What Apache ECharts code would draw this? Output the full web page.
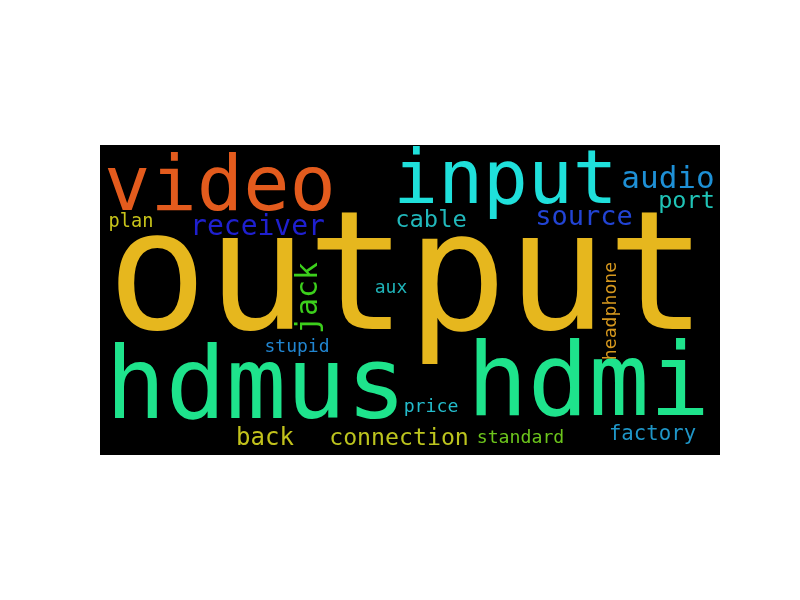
<!DOCTYPE html>
<html>
<head>
    <meta charset="utf-8">
    <title>ECharts</title>
    <script src="https://fastly.jsdelivr.net/npm/echarts@6/dist/echarts.min.js"></script>
</head>
<body style="margin:0;background:#fff;">
    <div id="main" style="width: 800px;height:600px;"></div>
    <script type="text/javascript">
        // words and their weights (font size in the cloud)
        var words = ['output', 'hdmus', 'hdmi', 'video', 'input', 'audio', 'source', 'receiver',
            'jack', 'connection', 'back', 'cable', 'port', 'factory', 'plan', 'headphone',
            'stupid', 'price', 'standard', 'aux'];
        var weights = [166, 100, 101, 77, 74.5, 31, 27, 28, 30, 23.2, 24, 23.8, 23.5, 20.7, 18.6, 18.2,
            18, 18.2, 18.2, 18];
        // layout position of each word in the cloud (0..620 across, 0..310 down)
        var posX = [307, 156, 488.5, 120, 405.5, 568, 484, 157.5, 209, 299, 165, 331, 586.5, 552.5,
            31, 511, 197, 331, 420.5, 291];
        var posY = [141, 247, 244, 45, 38.6, 35, 73, 82.7, 153, 294, 293.8, 75.8, 56.9, 289.6, 77.2, 166,
            202.3, 262, 293.3, 143.3];
        var rotations = [0, 0, 0, 0, 0, 0, 0, 0, 90, 0, 0, 0, 0, 0, 0, 90, 0, 0, 0, 0];
        var colors = ['#e6b71e', '#1ee38c', '#1ee38c', '#e35b1d', '#1fe0db', '#1e90d6', '#2244d4', '#1f20cf',
            '#3ccf1c', '#bcc41e', '#c2c21c', '#21b8bb', '#20c4b7', '#1f96c8', '#c8c41a', '#d6981e',
            '#2185d0', '#24bccc', '#6cc51c', '#1fb3b8'];

        var myChart = echarts.init(document.getElementById('main'));

        var data = words.map(function (w, i) {
            return {
                name: w,
                value: [posX[i], posY[i]],
                label: {
                    fontSize: weights[i],
                    color: colors[i],
                    rotate: rotations[i]
                }
            };
        });

        option = {
            animation: false,
            grid: {
                left: 100,
                top: 145,
                width: 620,
                height: 310,
                show: true,
                backgroundColor: '#000',
                borderWidth: 0
            },
            xAxis: { type: 'value', min: 0, max: 620, show: false },
            yAxis: { type: 'value', min: 0, max: 310, inverse: true, show: false },
            series: [
                {
                    type: 'scatter',
                    symbolSize: 1,
                    // scatter defaults to 0.8 opacity, which the labels inherit
                    itemStyle: { color: 'rgba(0,0,0,0)', opacity: 1 },
                    label: {
                        show: true,
                        position: 'inside',
                        formatter: '{b}',
                        fontFamily: 'DejaVu Sans Mono',
                        align: 'center',
                        verticalAlign: 'middle'
                    },
                    emphasis: { disabled: true },
                    data: data
                }
            ]
        };

        myChart.setOption(option);
    </script>
</body>
</html>
